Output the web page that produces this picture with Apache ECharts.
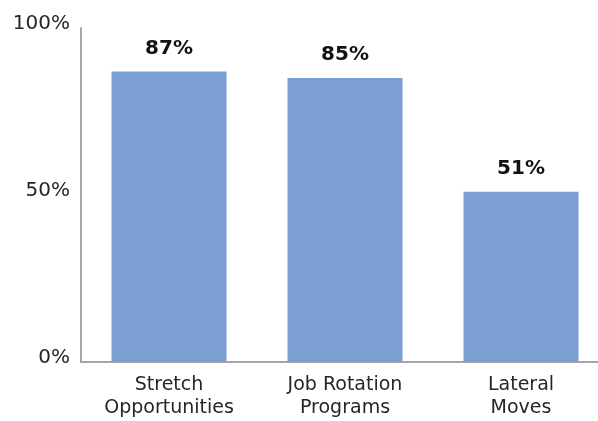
<!DOCTYPE html>
<html>
<head>
<meta charset="utf-8">
<script src="https://cdn.jsdelivr.net/npm/echarts@6/dist/echarts.min.js"></script>
<style>
  html, body { margin: 0; padding: 0; background: #fff; }
  #chart { width: 598px; height: 421px; }
</style>
</head>
<body>
<div id="chart"></div>
<script>
// Share of respondents per development approach
const categories = ['Stretch\nOpportunities', 'Job Rotation\nPrograms', 'Lateral\nMoves'];
const values = [87, 85, 51];
const yTicks = [0, 50, 100];

const FONT = 'DejaVu Sans';

const chart = echarts.init(document.getElementById('chart'), null, { renderer: 'canvas' });
chart.setOption({
  animation: false,
  backgroundColor: '#ffffff',
  // plot area runs a little past the right edge of the canvas
  grid: {
    left: 81, top: 28, width: 528, height: 334,
    containLabel: false, outerBoundsMode: 'none'
  },
  xAxis: {
    type: 'category',
    data: categories,
    axisLine: { show: true, lineStyle: { color: '#a6a6a6', width: 2 } },
    axisTick: { show: false },
    axisLabel: {
      color: '#262626', fontFamily: FONT, fontSize: 19, lineHeight: 23, margin: 12
    }
  },
  yAxis: {
    type: 'value',
    min: yTicks[0],
    max: yTicks[yTicks.length - 1],
    interval: 50,
    axisLine: { show: true, lineStyle: { color: '#a6a6a6', width: 2 } },
    axisTick: { show: false },
    splitLine: { show: false },
    axisLabel: {
      color: '#262626', fontFamily: FONT, fontSize: 20, margin: 11,
      verticalAlign: 'bottom', lineHeight: 8,
      formatter: v => v + '%'
    }
  },
  series: [{
    type: 'bar',
    data: values,
    barWidth: 115,
    itemStyle: { color: '#7b9ed3' },
    label: {
      show: true,
      position: 'top',
      distance: 13,
      color: '#111111',
      fontFamily: FONT,
      fontWeight: 'bold',
      fontSize: 20,
      formatter: p => p.value + '%'
    }
  }]
});
</script>
</body>
</html>
